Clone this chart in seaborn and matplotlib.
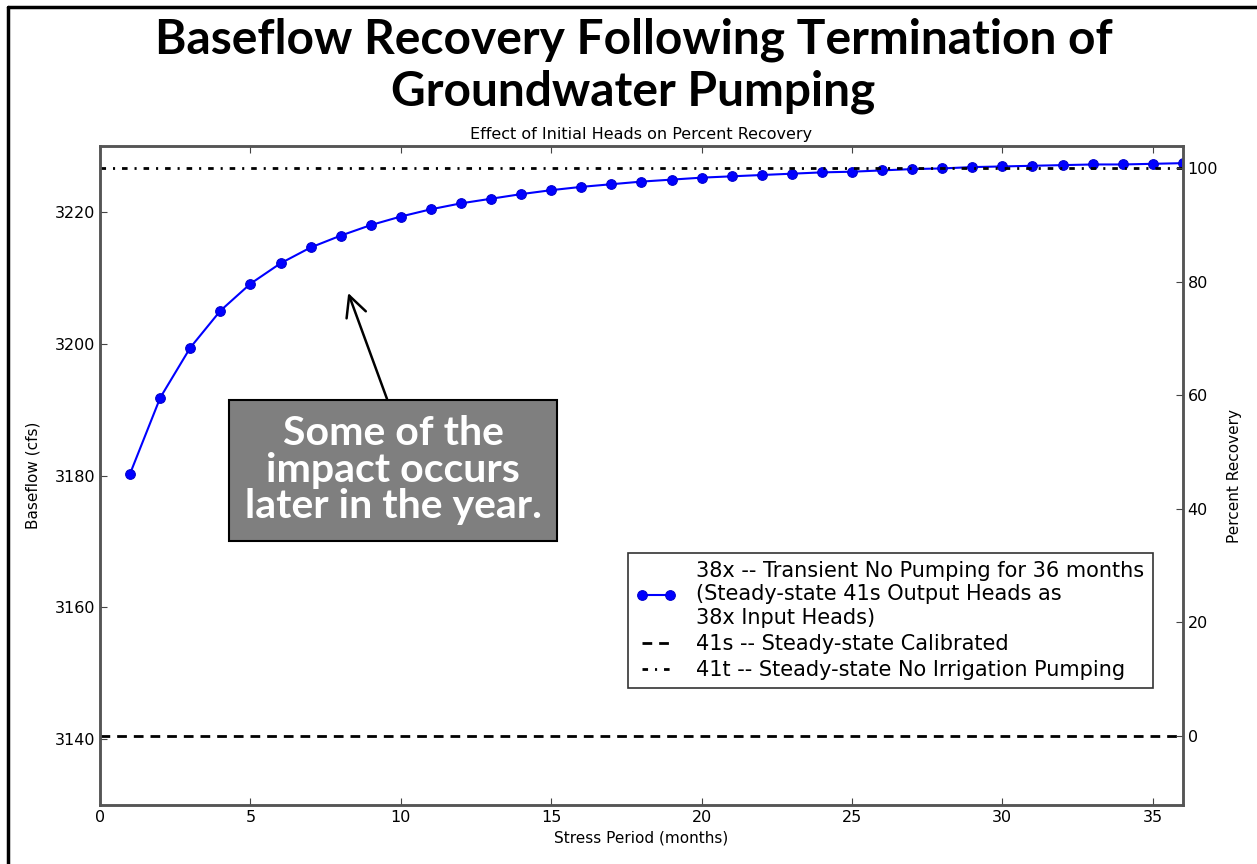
import numpy as np
import pandas as pd
import matplotlib
matplotlib.use("Agg")
import matplotlib.pyplot as plt
import seaborn as sns
from matplotlib.lines import Line2D

# --- data ---
months = list(range(1, 37))
baseflow = [3180.3, 3191.8, 3199.4, 3205.0, 3209.1, 3212.2, 3214.6, 3216.4, 3218.0, 3219.3,
            3220.4, 3221.3, 3222.0, 3222.7, 3223.3, 3223.8, 3224.2, 3224.6, 3224.9, 3225.2,
            3225.4, 3225.6, 3225.8, 3226.0, 3226.1, 3226.3, 3226.5, 3226.6, 3226.8, 3226.9,
            3227.0, 3227.1, 3227.2, 3227.2, 3227.3, 3227.4]
calibrated_41s = 3140.5      # 0 % recovery
no_irrigation_41t = 3226.6   # 100 % recovery

labels = ["38x -- Transient No Pumping for 36 months\n(Steady-state 41s Output Heads as\n38x Input Heads)",
          "41s -- Steady-state Calibrated",
          "41t -- Steady-state No Irrigation Pumping"]

df = pd.DataFrame({"month": months, "baseflow": baseflow})

sns.set_style("ticks")
plt.rcParams["font.family"] = ["DejaVu Sans"]
plt.rcParams.update({"text.color": "black", "axes.labelcolor": "black",
                     "xtick.color": "black", "ytick.color": "black"})

fig = plt.figure(figsize=(12.57, 8.64), dpi=100)
ax = fig.add_axes([0.0796, 0.0683, 0.8614, 0.7627])

sns.lineplot(data=df, x="month", y="baseflow", ax=ax, color="#0000ff", lw=1.5,
             marker="o", markersize=7, markeredgecolor="#0000cc", label=labels[0])
ax.axhline(calibrated_41s, color="k", ls="--", lw=2, dashes=(3.5, 2.5), label=labels[1])
ax.axhline(no_irrigation_41t, color="k", ls="-.", lw=2, dashes=(2, 2.5, 0.75, 2.5), label=labels[2])

ax.set_xlim(0, 36)
ax.set_ylim(3130, 3230)
ax.set_xticks(range(0, 36, 5))
ax.set_yticks(range(3140, 3221, 20))
ax.set_xlabel("Stress Period (months)", fontsize=11)
ax.set_ylabel("Baseflow (cfs)", fontsize=11, labelpad=10)
ax.tick_params(direction="in", top=True, length=5, labelsize=11.5, color="#444444")

ax2 = ax.twinx()
lo, hi = ax.get_ylim()
span = no_irrigation_41t - calibrated_41s
ax2.set_ylim((lo - calibrated_41s) / span * 100, (hi - calibrated_41s) / span * 100)
ax2.set_yticks(range(0, 101, 20))
ax2.set_ylabel("Percent Recovery", fontsize=11, labelpad=6)
ax2.tick_params(direction="in", length=5, labelsize=11.5, color="#444444")

for a in (ax, ax2):
    for s in a.spines.values():
        s.set_color("#555555")
        s.set_linewidth(1.8)

leg = ax.legend(loc="lower right", bbox_to_anchor=(0.972, 0.1775), borderaxespad=0,
                fontsize=15, numpoints=2, handlelength=1.95, handletextpad=0.95,
                borderpad=0.38, fancybox=False, framealpha=1, edgecolor="#333333",
                labelspacing=0.3)
leg.get_frame().set_linewidth(1.2)

ax.set_title("Effect of Initial Heads on Percent Recovery", fontsize=11.5, pad=5)

ax.annotate("Some of the\nimpact occurs\nlater in the year.", xy=(8.25, 3207.7),
            xytext=(9.74, 3180.8), ha="center", va="center", fontsize=29.5,
            fontfamily="Lato", fontweight="bold", color="white", linespacing=0.98,
            bbox=dict(boxstyle="square,pad=0.38", fc="#7f7f7f", ec="black", lw=1.5),
            arrowprops=dict(arrowstyle="->,head_length=0.5,head_width=0.25", color="black",
                            lw=1.8, relpos=(0.5, 1.0), shrinkA=0, shrinkB=0))

title_lines = ["Baseflow Recovery Following Termination of", "Groundwater Pumping"]
fig.text(0.504, 1 - 54 / 864, title_lines[0], ha="center", va="baseline",
         fontsize=34.5, fontfamily="Lato", fontweight="bold")
fig.text(0.504, 1 - 106 / 864, title_lines[1], ha="center", va="baseline",
         fontsize=34.5, fontfamily="Lato", fontweight="bold")

# frame of the slide picture
fig.add_artist(Line2D([0.0064, 0.0064], [0, 0.992], color="black", lw=2.5, transform=fig.transFigure))
fig.add_artist(Line2D([0.0064, 1], [0.992, 0.992], color="black", lw=2.5, transform=fig.transFigure))

fig.savefig("out.png", dpi=100)
